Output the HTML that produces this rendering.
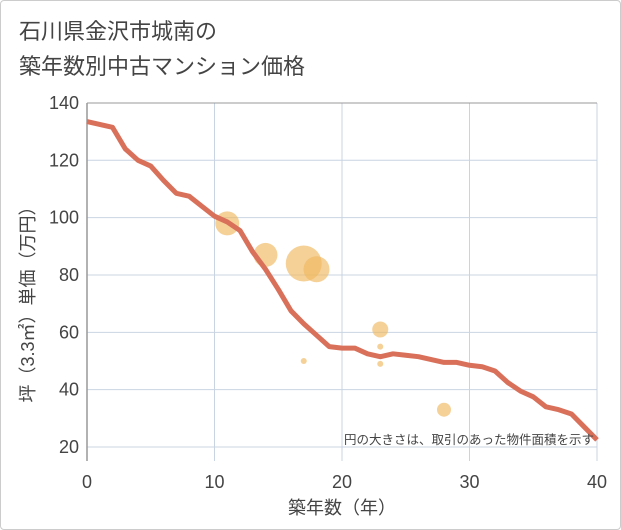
<!DOCTYPE html>
<html><head><meta charset="utf-8"><style>
body{margin:0;background:#fff}
#w{width:619px;height:528px;border:1px solid #ccc;position:relative;font-family:"Liberation Sans","Noto Sans CJK JP",sans-serif;border-radius:4px}
#t{position:absolute;left:18px;top:13px;font-size:22px;line-height:35px;color:#444}
</style></head><body>
<div id="w">
<div id="t">石川県金沢市城南の<br>築年数別中古マンション価格</div>
<svg id="s" width="621" height="530" style="position:absolute;left:-1px;top:-1px"></svg>
</div>
<script>
const years=[0,1,2,3,4,5,6,7,8,9,10,11,12,13,14,15,16,17,18,19,20,21,22,23,24,25,26,27,28,29,30,31,32,33,34,35,36,37,38,39,40];
const prices=[133.5,132.5,131.5,124,120,118,113,108.5,107.5,104,100.5,98.5,95.5,88,82,75,67.5,63,59,55,54.5,54.5,52.5,51.5,52.5,52,51.5,50.5,49.5,49.5,48.5,48,46.5,42.5,39.5,37.5,34,33,31.5,27,22.5];
const bubX=[11,14,17,18,23,23,23,28,17];
const bubY=[98,87,84,82,61,55,49,33,50];
const bubR=[12,12,18,13,8,3,3,7,3];
const xTicks=[0,10,20,30,40];
const yTicks=[20,40,60,80,100,120,140];
const X=v=>87+v*12.75, Y=v=>447-(v-20)*2.867;
const s=document.getElementById('s');const NS='http://www.w3.org/2000/svg';
function mk(t,a){const e=document.createElementNS(NS,t);for(const k in a)e.setAttribute(k,a[k]);s.appendChild(e);return e;}
for(const t of xTicks){const g=mk('line',{x1:X(t),x2:X(t),y1:103,y2:461,stroke:'#c8d4e2','stroke-width':1});


const l=mk('text',{x:X(t),y:488,'text-anchor':'middle','font-size':18,fill:'#444'});l.textContent=t;

}
for(const t of yTicks){const g=mk('line',{x1:87,x2:597,y1:Y(t),y2:Y(t),stroke:'#c8d4e2','stroke-width':1});


const l=mk('text',{x:79,y:Y(t)+6,'text-anchor':'end','font-size':18,fill:'#444'});l.textContent=t;

}
const ax=mk('line',{x1:87,x2:87,y1:103,y2:461,stroke:'#999','stroke-width':1.5});


const ax2=mk('line',{x1:87,x2:597,y1:103,y2:103,stroke:'#999','stroke-width':1});


for(let i=0;i<bubX.length;i++){const c=mk('circle',{cx:X(bubX[i]),cy:Y(bubY[i]),r:bubR[i],fill:'#f0b860','fill-opacity':0.65});

}
const p=mk('polyline',{points:years.map((y,i)=>X(y)+','+Y(prices[i])).join(' '),fill:'none',stroke:'#d9705a','stroke-width':5,'stroke-linejoin':'round'});


const n=mk('text',{x:594,y:444,'text-anchor':'end','font-size':12.5,fill:'#444'});n.textContent='円の大きさは、取引のあった物件面積を示す';


const xt=mk('text',{x:342,y:514,'text-anchor':'middle','font-size':18,fill:'#444'});xt.textContent='築年数（年）';


const yt=mk('text',{x:0,y:0,'text-anchor':'middle','font-size':18,fill:'#444',transform:'translate(34,300) rotate(-90)'});yt.textContent='坪（3.3㎡）単価（万円）';


</script>
</body></html>
